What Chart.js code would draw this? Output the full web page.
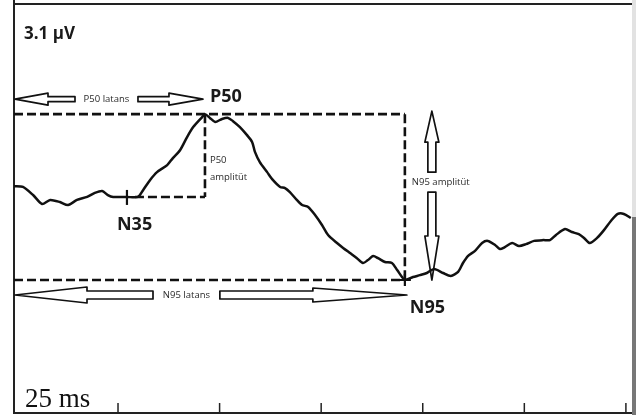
<!DOCTYPE html>
<html>
<head>
<meta charset="utf-8">
<script src="https://cdn.jsdelivr.net/npm/chart.js@4"></script>
<style>
html,body{margin:0;padding:0;background:#fff;}
#wrap{width:640px;height:415px;position:relative;}
</style>
</head>
<body>
<div id="wrap"><canvas id="c"></canvas></div>
<script>
// Time (ms) and amplitude (µV)
const timeMs = [-0.6,1.6,4.1,6.3,8.3,10.7,12.7,14.9,17.4,19.3,21.1,22.5,23.8,27.2,29.9,31.2,32.9,34.6,37.1,38.5,40.3,42.0,43.5,45.7,46.4,47.6,48.9,50.6,52.1,53.3,55.0,56.7,58.0,58.7,59.9,61.7,63.1,64.9,66.1,67.3,69.0,70.3,71.8,73.5,75.2,76.7,78.9,80.4,82.1,83.8,85.3,86.5,87.8,89.0,90.7,92.4,93.7,94.9,95.6,97.6,99.3,101.0,102.8,105.0,106.9,108.7,109.9,111.1,112.8,114.6,116.0,117.8,119.0,120.2,122.0,123.7,125.4,127.4,129.6,131.3,132.8,135.0,136.7,138.4,139.7,141.1,142.9,144.6,146.3,148.0,149.5,151.2];
const amplitude = [0.41,0.38,0.08,-0.25,-0.10,-0.18,-0.29,-0.10,0.01,0.16,0.23,0.08,0.01,0.01,0.01,0.27,0.64,0.93,1.19,1.45,1.75,2.23,2.60,2.97,3.08,2.94,2.79,2.90,2.94,2.82,2.60,2.31,2.05,1.68,1.30,0.93,0.64,0.38,0.34,0.19,-0.10,-0.29,-0.36,-0.66,-1.03,-1.40,-1.70,-1.88,-2.07,-2.26,-2.44,-2.33,-2.18,-2.26,-2.40,-2.44,-2.70,-2.96,-3.07,-2.96,-2.89,-2.81,-2.66,-2.81,-2.92,-2.77,-2.44,-2.18,-2.00,-1.70,-1.62,-1.77,-1.92,-1.85,-1.70,-1.81,-1.74,-1.62,-1.59,-1.59,-1.40,-1.18,-1.29,-1.37,-1.51,-1.70,-1.51,-1.22,-0.88,-0.62,-0.62,-0.77];
const xTicks = [25,50,75,100,125,150];
const peakNames = ['N35','P50','N95'];
const peakLatency = [27.2,46.4,95.6];
const peakAmplitude = [0.01,3.08,-3.07];
const scaleLabels = ['3.1 µV','25 ms'];
const arrowLabels = ['P50 latans','N95 latans','N95 amplitüt','P50','amplitüt'];

const points = timeMs.map((t,i)=>({x:t,y:amplitude[i]}));

function arrowHalfH(ctx, tipX, backX, endX, y, hh, sh){
  ctx.beginPath();
  ctx.moveTo(tipX,y);
  ctx.lineTo(backX,y-hh);
  ctx.lineTo(backX,y-sh);
  ctx.lineTo(endX,y-sh);
  ctx.lineTo(endX,y+sh);
  ctx.lineTo(backX,y+sh);
  ctx.lineTo(backX,y+hh);
  ctx.closePath();
  ctx.fillStyle='#fff';ctx.fill();
  ctx.lineJoin='round';
  ctx.strokeStyle='#111';ctx.lineWidth=1.7;ctx.setLineDash([]);ctx.stroke();
}
function arrowHalfV(ctx, tipY, backY, endY, x, hh, sh){
  ctx.beginPath();
  ctx.moveTo(x,tipY);
  ctx.lineTo(x-hh,backY);
  ctx.lineTo(x-sh,backY);
  ctx.lineTo(x-sh,endY);
  ctx.lineTo(x+sh,endY);
  ctx.lineTo(x+sh,backY);
  ctx.lineTo(x+hh,backY);
  ctx.closePath();
  ctx.fillStyle='#fff';ctx.fill();
  ctx.lineJoin='round';
  ctx.strokeStyle='#111';ctx.lineWidth=1.7;ctx.setLineDash([]);ctx.stroke();
}
function dashed(ctx,x1,y1,x2,y2){
  ctx.beginPath();ctx.moveTo(x1,y1);ctx.lineTo(x2,y2);
  ctx.strokeStyle='#111';ctx.lineWidth=2.6;ctx.setLineDash([9,4]);ctx.stroke();ctx.setLineDash([]);
}

const annot = {
  id:'annot',
  beforeDatasetsDraw(chart){
    const ctx=chart.ctx, xs=chart.scales.x, ys=chart.scales.y, a=chart.chartArea;
    const xN35=xs.getPixelForValue(peakLatency[0]), yN35=ys.getPixelForValue(peakAmplitude[0]);
    const xP50=xs.getPixelForValue(peakLatency[1]), yP50=ys.getPixelForValue(peakAmplitude[1]);
    const xN95=xs.getPixelForValue(peakLatency[2]), yN95=ys.getPixelForValue(peakAmplitude[2]);
    ctx.save();
    // frame
    ctx.fillStyle='#e2e2e2';ctx.fillRect(a.right,0,4,217);
    ctx.fillStyle='#777';ctx.fillRect(a.right,217,4,200);
    ctx.strokeStyle='#222';ctx.lineWidth=2;
    ctx.beginPath();ctx.moveTo(a.left,a.top+1);ctx.lineTo(a.right,a.top+1);ctx.stroke();
    ctx.beginPath();ctx.moveTo(a.left,0);ctx.lineTo(a.left,a.bottom);ctx.lineTo(a.right,a.bottom);ctx.stroke();
    ctx.lineWidth=1.5;
    xTicks.forEach(t=>{const x=xs.getPixelForValue(t);ctx.beginPath();ctx.moveTo(x,a.bottom);ctx.lineTo(x,a.bottom-10);ctx.stroke();});
    // dashed box
    dashed(ctx,a.left,yP50,xN95,yP50);
    dashed(ctx,xN95,yP50,xN95,yN95);
    dashed(ctx,a.left,yN95,xN95,yN95);
    dashed(ctx,xP50,yP50,xP50,yN35);
    dashed(ctx,xN35+8,yN35,xP50,yN35);
    // N35 tick
    ctx.strokeStyle='#111';ctx.lineWidth=2.2;
    ctx.beginPath();ctx.moveTo(xN35,yN35-7);ctx.lineTo(xN35,yN35+8);ctx.stroke();
    // N95 cross
    ctx.beginPath();ctx.moveTo(xN95-6,yN95);ctx.lineTo(xN95+6,yN95);ctx.moveTo(xN95,yN95-6);ctx.lineTo(xN95,yN95+6);ctx.stroke();
    // P50 latency arrow
    const yA=yP50-15;
    arrowHalfH(ctx,a.left+1,a.left+34,a.left+61,yA,6,2.5);
    arrowHalfH(ctx,xP50-2,xP50-36,xP50-67,yA,6,2.5);
    // N95 latency arrow
    const yB=yN95+15;
    arrowHalfH(ctx,a.left+1,a.left+73,a.left+139,yB,8,4);
    arrowHalfH(ctx,xN95+2,xN95-92,xN95-185,yB,7,4);
    // N95 amplitude arrow
    const xC=xN95+27;
    arrowHalfV(ctx,yP50-3,yP50+28,yP50+58,xC,7,4);
    arrowHalfV(ctx,yN95,yN95-44,yP50+78,xC,7,4);
    // small texts
    ctx.fillStyle='#2a2a2a';ctx.font='9.5px "Open Sans"';ctx.textBaseline='middle';ctx.textAlign='center';
    ctx.fillText(arrowLabels[0],(a.left+61+xP50-67)/2,yA);
    ctx.fillText(arrowLabels[1],(a.left+139+xN95-185)/2,yB);
    ctx.textAlign='left';
    ctx.fillText(arrowLabels[2],xC-20,yP50+68);
    ctx.fillText(arrowLabels[3],xP50+5,yP50+46);
    ctx.fillText(arrowLabels[4],xP50+5,yP50+63);
    // bold peak labels
    ctx.fillStyle='#1a1a1a';ctx.font='bold 18px "Open Sans"';ctx.textBaseline='alphabetic';ctx.textAlign='left';
    ctx.fillText(peakNames[1],xP50+5,yP50-12);
    ctx.fillText(peakNames[0],xN35-10,yN35+33);
    ctx.fillText(peakNames[2],xN95+5,yN95+33);
    ctx.font='bold 17px "Open Sans"';
    ctx.fillText(scaleLabels[0],a.left+10,a.top+36);
    ctx.font='27px "Liberation Serif"';ctx.fillStyle='#111';
    ctx.fillText(scaleLabels[1],a.left+11,a.bottom-6);
    ctx.restore();
  }
};

new Chart(document.getElementById('c'),{
  type:'scatter',
  data:{datasets:[{data:points,showLine:true,borderColor:'#111',borderWidth:2.5,pointRadius:0,tension:0.25,fill:false}]},
  options:{
    responsive:true,maintainAspectRatio:false,animation:false,
    layout:{padding:{left:14,top:3,right:8,bottom:2}},
    plugins:{legend:{display:false},tooltip:{enabled:false}},
    scales:{
      x:{type:'linear',min:-0.6,max:151.5,display:false},
      y:{type:'linear',min:-8,max:7.2,display:false}
    }
  },
  plugins:[annot]
});
</script>
</body>
</html>
